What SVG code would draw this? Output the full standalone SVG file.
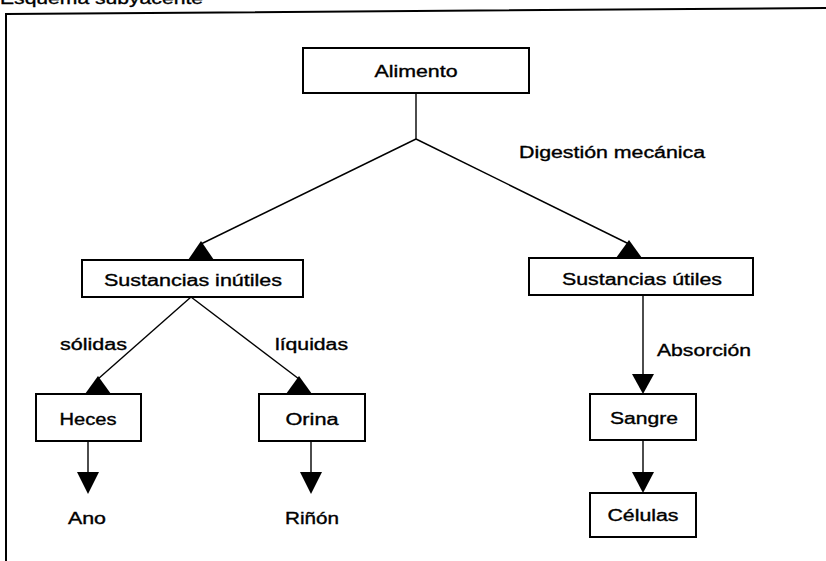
<svg xmlns="http://www.w3.org/2000/svg" width="826" height="561" viewBox="0 0 826 561">
<style>
  .box{fill:#fff;stroke:#000;stroke-width:2}
  .t{font-family:"Liberation Sans",Arial,sans-serif;font-size:16px;fill:#000;stroke:#000;stroke-width:0.35;text-anchor:middle}
  .tl{font-family:"Liberation Sans",Arial,sans-serif;font-size:16px;fill:#000;stroke:#000;stroke-width:0.35}
  .ln{stroke:#000;stroke-width:1.4;fill:none}
  .ah{fill:#000;stroke:none}
</style>
<rect x="0" y="0" width="826" height="561" fill="#fff"/>
<text class="tl" x="0" y="4" textLength="203" lengthAdjust="spacingAndGlyphs">Esquema subyacente</text>
<g id="frame">
  <polyline class="ln" style="stroke-width:2" points="6,561 6,14 826,8"/>
</g>
<g id="connectors">
  <line class="ln" x1="416" y1="93" x2="416" y2="139"/>
  <line class="ln" x1="416" y1="139" x2="201" y2="244"/>
  <polygon class="ah" points="201,241 188,260 214,260"/>
  <line class="ln" x1="416" y1="139" x2="629" y2="244"/>
  <polygon class="ah" points="629,240 616,258 642,258"/>
  <line class="ln" x1="191" y1="297" x2="98" y2="379"/>
  <polygon class="ah" points="98,376 85,394 111,394"/>
  <line class="ln" x1="191" y1="297" x2="299" y2="379"/>
  <polygon class="ah" points="299,376 286,394 312,394"/>
  <line class="ln" x1="88" y1="441" x2="88" y2="474"/>
  <polygon class="ah" points="77,472 99,472 88,494"/>
  <line class="ln" x1="311" y1="441" x2="311" y2="474"/>
  <polygon class="ah" points="300,472 322,472 311,494"/>
  <line class="ln" x1="643" y1="295" x2="643" y2="376"/>
  <polygon class="ah" points="632,374 654,374 643,394"/>
  <line class="ln" x1="643" y1="440" x2="643" y2="474"/>
  <polygon class="ah" points="632,472 654,472 643,493"/>
  <text class="tl" x="519" y="158" textLength="186" lengthAdjust="spacingAndGlyphs">Digestión mecánica</text>
  <text class="tl" x="60" y="350" textLength="67" lengthAdjust="spacingAndGlyphs">sólidas</text>
  <text class="tl" x="275" y="350" textLength="73" lengthAdjust="spacingAndGlyphs">líquidas</text>
  <text class="tl" x="657" y="356" textLength="94" lengthAdjust="spacingAndGlyphs">Absorción</text>
</g>
<g id="alimento">
  <rect class="box" x="303" y="48" width="226" height="45"/>
  <text class="t" x="416" y="77" textLength="83" lengthAdjust="spacingAndGlyphs">Alimento</text>
</g>
<g id="inutiles">
  <rect class="box" x="82" y="260" width="221" height="37"/>
  <text class="t" x="193" y="286" textLength="178" lengthAdjust="spacingAndGlyphs">Sustancias inútiles</text>
</g>
<g id="utiles">
  <rect class="box" x="529" y="258" width="224" height="37"/>
  <text class="t" x="642" y="285" textLength="160" lengthAdjust="spacingAndGlyphs">Sustancias útiles</text>
</g>
<g id="heces">
  <rect class="box" x="36" y="394" width="105" height="47"/>
  <text class="t" x="88" y="425" textLength="57" lengthAdjust="spacingAndGlyphs">Heces</text>
</g>
<g id="orina">
  <rect class="box" x="259" y="394" width="106" height="47"/>
  <text class="t" x="312" y="425" textLength="53" lengthAdjust="spacingAndGlyphs">Orina</text>
</g>
<g id="ano">
  <text class="t" x="87" y="524" textLength="38" lengthAdjust="spacingAndGlyphs">Ano</text>
</g>
<g id="rinon">
  <text class="t" x="312" y="524" textLength="54" lengthAdjust="spacingAndGlyphs">Riñón</text>
</g>
<g id="sangre">
  <rect class="box" x="590" y="394" width="106" height="46"/>
  <text class="t" x="644" y="424" textLength="68" lengthAdjust="spacingAndGlyphs">Sangre</text>
</g>
<g id="celulas">
  <rect class="box" x="590" y="493" width="106" height="44"/>
  <text class="t" x="643" y="521" textLength="71" lengthAdjust="spacingAndGlyphs">Células</text>
</g>
</svg>
